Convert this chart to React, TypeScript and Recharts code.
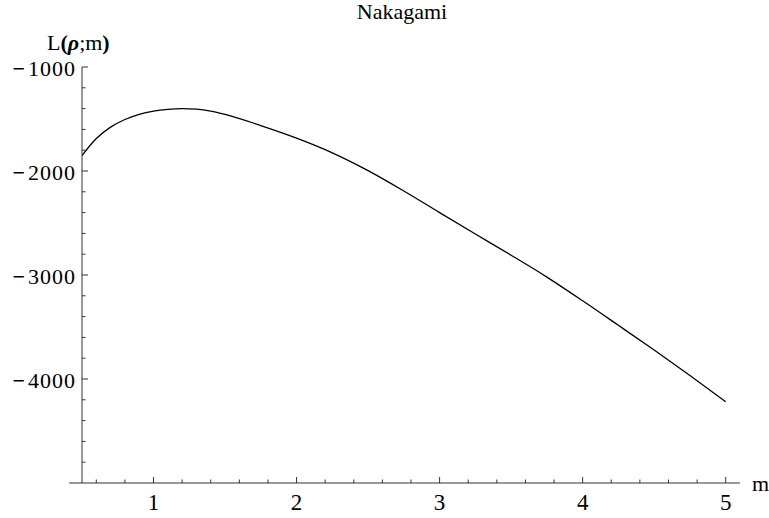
import { LineChart, Line, XAxis, YAxis, ReferenceLine } from "recharts";

// shape parameter m and log-likelihood
const mValues = [
  0.5, 0.6, 0.7, 0.8, 0.9, 1.0, 1.1, 1.2, 1.3, 1.4, 1.5, 1.75, 2.0, 2.25, 2.5,
  2.75, 3.0, 3.25, 3.5, 3.75, 4.0, 4.25, 4.5, 4.75, 5.0,
];
const logLik = [
  -1852, -1688, -1578, -1505, -1455, -1424, -1407, -1401, -1406, -1424, -1455,
  -1563, -1684, -1825, -1996, -2192, -2400, -2606, -2810, -3020, -3248, -3484,
  -3722, -3966, -4218,
];

const xMajor = [1, 2, 3, 4, 5];
const yMajor = [-4000, -3000, -2000, -1000];

// minor ticks every 0.2 on x, every 200 on y
const xTicks = Array.from({ length: 23 }, (_, i) => Math.round((0.6 + i * 0.2) * 10) / 10);
const yTicks = Array.from({ length: 20 }, (_, i) => -4800 + i * 200);

const data = mValues.map((m, i) => ({ m, L: logLik[i] }));

const FONT = "'Liberation Serif', 'Times New Roman', serif";
const AXIS = "#333";

const XTick = (props: any) => {
  const { x, y, payload } = props;
  const major = xMajor.includes(payload.value);
  return (
    <g>
      <line x1={x} x2={x} y1={y} y2={y - (major ? 6 : 3.5)} stroke={AXIS} />
      {major && (
        <text x={x} y={y + 27} textAnchor="middle" fontFamily={FONT} fontSize={23} fill="#000">
          {payload.value}
        </text>
      )}
    </g>
  );
};

const YTick = (props: any) => {
  const { x, y, payload } = props;
  const major = yMajor.includes(payload.value);
  return (
    <g>
      <line x1={x} x2={x + (major ? 6 : 3.5)} y1={y} y2={y} stroke={AXIS} />
      {major && (
        <text x={x - 6} y={y + 9} textAnchor="end" fontFamily={FONT} fontSize={22} letterSpacing={1} fill="#000">
          <tspan fontWeight="bold">−</tspan>
          <tspan dx={2}>{Math.abs(payload.value)}</tspan>
        </text>
      )}
    </g>
  );
};

export default function App() {
  return (
    <div style={{ position: "relative", width: 769, height: 518, background: "#fff" }}>
      <style>{"body{margin:0}"}</style>
      <LineChart
        width={769}
        height={518}
        data={data}
        margin={{ top: 67, right: 29, bottom: 0, left: 0 }}
      >
        <XAxis
          type="number"
          dataKey="m"
          domain={[0.5, 5.1]}
          allowDataOverflow
          ticks={xTicks}
          interval={0}
          tick={XTick}
          tickLine={false}
          tickSize={0}
          tickMargin={0}
          height={35}
          stroke={AXIS}
        />
        <YAxis
          type="number"
          domain={[-5000, -1000]}
          allowDataOverflow
          ticks={yTicks}
          interval={0}
          tick={YTick}
          tickLine={false}
          tickSize={0}
          tickMargin={0}
          width={82}
          stroke={AXIS}
        />
        <ReferenceLine
          segment={[
            { x: 0.41, y: -5000 },
            { x: 0.5, y: -5000 },
          ]}
          ifOverflow="visible"
          stroke={AXIS}
        />
        <Line
          type="monotone"
          dataKey="L"
          stroke="#000"
          strokeWidth={1.3}
          dot={false}
          isAnimationActive={false}
        />
      </LineChart>
      <svg
        width={769}
        height={518}
        style={{ position: "absolute", left: 0, top: 0, pointerEvents: "none" }}
      >
        <text x={402} y={18.5} textAnchor="middle" fontFamily={FONT} fontSize={22} fill="#000">
          Nakagami
        </text>
        <text x={47} y={50} fontFamily={FONT} fontSize={22} fill="#000">
          L<tspan fontWeight="bold">(</tspan>
          <tspan fontWeight="bold" fontStyle="italic">ρ</tspan>;m
          <tspan fontWeight="bold">)</tspan>
        </text>
        <text x={752} y={491} fontFamily={FONT} fontSize={22} fill="#000">
          m
        </text>
      </svg>
    </div>
  );
}
